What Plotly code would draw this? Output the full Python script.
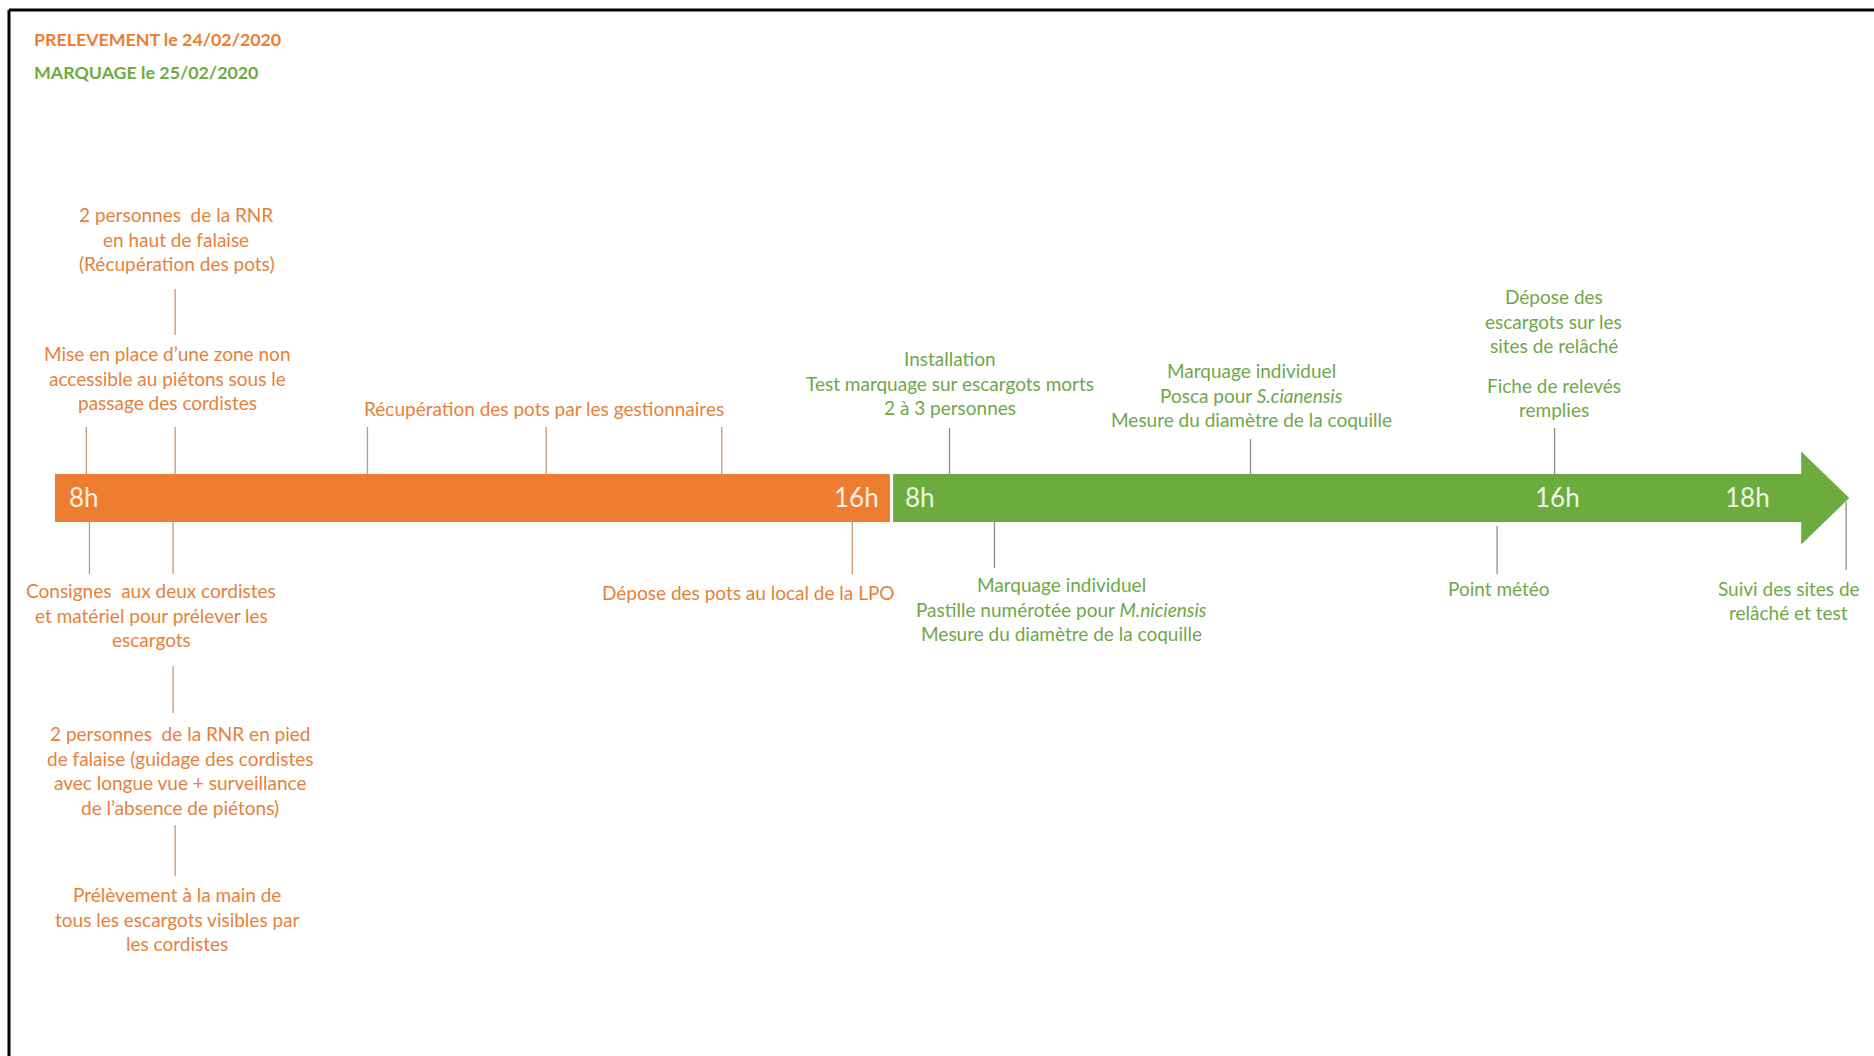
import plotly.graph_objects as go

# ---------------- data ----------------
# Timeline phases (schematic hour positions along the arrow)
phase_names = ["PRELEVEMENT le 24/02/2020", "MARQUAGE le 25/02/2020"]
phase_start = [0.0, 8.02]
phase_end = [7.99, 16.71]
arrow_tip = 17.17
phase_colors = ["#ED7D31", "#6CAC3F"]
text_colors = ["#E8803A", "#6DA84A"]
conn_colors = ["#C99670", "#8C8C8C"]
label_colors = ["#FFEFE2", "#EEF7E6"]

# Hour labels written inside the arrow
tick_labels = ["8h", "16h", "8h", "16h", "18h"]
tick_x = [0.28, 7.67, 8.28, 14.38, 16.20]
tick_phase = [0, 0, 1, 1, 1]

# Events: text (lines separated by <br>), position along timeline, vertical level, phase
event_text = [
    "2 personnes  de la RNR<br>en haut de falaise<br>(Récupération des pots)",
    "Mise en place d’une zone non<br>accessible au piétons sous le<br>passage des cordistes",
    "Récupération des pots par les gestionnaires",
    "Installation<br>Test marquage sur escargots morts<br>2 à 3 personnes",
    "Marquage individuel<br>Posca pour <i>S.cianensis</i><br>Mesure du diamètre de la coquille",
    "Dépose des<br>escargots sur les<br>sites de relâché",
    "Fiche de relevés<br>remplies",
    "Consignes  aux deux cordistes<br>et matériel pour prélever les<br>escargots",
    "2 personnes  de la RNR en pied<br>de falaise (guidage des cordistes<br>avec longue vue + surveillance<br>de l’absence de piétons)",
    "Prélèvement à la main de<br>tous les escargots visibles par<br>les cordistes",
    "Dépose des pots au local de la LPO",
    "Marquage individuel<br>Pastille numérotée pour <i>M.niciensis</i><br>Mesure du diamètre de la coquille",
    "Point météo",
    "Suivi des sites de<br>relâché et test",
]
event_x = [1.16, 1.08, 4.68, 8.56, 11.45, 14.34, 14.34,
           0.92, 1.20, 1.17, 6.64, 9.63, 13.82, 16.59]
event_y = [259, 120, 90, 115, 103, 177, 100.5,
           -117, -272.5, -421, -94, -111, -90, -102.5]
event_phase = [0, 0, 0, 1, 1, 1, 1,
               0, 0, 0, 0, 1, 1, 1]

# Connector ticks: x position, from level, to level, phase
conn_x = [1.15, 0.30, 1.15, 2.99, 4.70, 6.38, 8.56, 11.44, 14.35,
          0.33, 1.13, 1.13, 1.15, 7.63, 8.99, 13.80, 17.14]
conn_y0 = [209, 71, 71, 71, 71, 71, 70, 59, 70,
           -24, -24, -168, -327, -24, -24, -28, -4]
conn_y1 = [163, 24, 24, 24, 24, 24, 24, 24, 24,
           -76, -76, -215, -378, -76, -70, -76, -72]
conn_phase = [0, 0, 0, 0, 0, 0, 1, 1, 1,
              0, 0, 0, 0, 0, 1, 1, 1]

bar_half = 24
head_half = 46.5
line_step = 24.5
FONT = "Lato"

# ---------------- figure ----------------
fig = go.Figure()

# orange segment
fig.add_trace(go.Scatter(
    x=[phase_start[0], phase_end[0], phase_end[0], phase_start[0], phase_start[0]],
    y=[-bar_half, -bar_half, bar_half, bar_half, -bar_half],
    fill="toself", fillcolor=phase_colors[0], mode="lines",
    line=dict(width=0, color=phase_colors[0]), hoverinfo="skip", showlegend=False))

# green segment with arrow head
fig.add_trace(go.Scatter(
    x=[phase_start[1], phase_end[1], phase_end[1], arrow_tip, phase_end[1], phase_end[1], phase_start[1], phase_start[1]],
    y=[-bar_half, -bar_half, -head_half, 0, head_half, bar_half, bar_half, -bar_half],
    fill="toself", fillcolor=phase_colors[1], mode="lines",
    line=dict(width=0, color=phase_colors[1]), hoverinfo="skip", showlegend=False))

# connectors
for ph in (0, 1):
    xs, ys = [], []
    for x, a, b, p in zip(conn_x, conn_y0, conn_y1, conn_phase):
        if p == ph:
            xs += [x, x, None]
            ys += [a, b, None]
    fig.add_trace(go.Scatter(x=xs, y=ys, mode="lines",
                             line=dict(color=conn_colors[ph], width=1.3),
                             hoverinfo="skip", showlegend=False))

# hour labels
for lab, x, p in zip(tick_labels, tick_x, tick_phase):
    fig.add_annotation(x=x, y=1, text=lab, showarrow=False, xanchor="center", yanchor="middle",
                       font=dict(family=FONT, size=26, color=label_colors[p]))

# event texts, line by line
for txt, x, y, p in zip(event_text, event_x, event_y, event_phase):
    lines = txt.split("<br>")
    n = len(lines)
    for i, ln in enumerate(lines):
        yy = y + (n - 1) / 2 * line_step - i * line_step
        fig.add_annotation(x=x, y=yy, text=ln, showarrow=False, xanchor="center", yanchor="middle",
                           font=dict(family=FONT, size=19, color=text_colors[p]))

# phase titles top-left
for i, name in enumerate(phase_names):
    fig.add_annotation(xref="paper", yref="paper", x=32 / 1874, y=1 - (39 + 33 * i) / 1056,
                       text="<b>" + name + "</b>", showarrow=False, xanchor="left", yanchor="middle",
                       font=dict(family=FONT, size=17.8, color=phase_colors[i]))

# frame lines (top and left)
fig.add_shape(type="line", xref="paper", yref="paper", x0=9 / 1874, x1=1, y0=1 - 10 / 1056, y1=1 - 10 / 1056,
              line=dict(color="black", width=3))
fig.add_shape(type="line", xref="paper", yref="paper", x0=9 / 1874, x1=9 / 1874, y0=0, y1=1 - 10 / 1056,
              line=dict(color="black", width=3))

fig.update_layout(
    width=1874, height=1056,
    margin=dict(l=0, r=0, t=0, b=0),
    paper_bgcolor="white", plot_bgcolor="white",
    xaxis=dict(range=[-55 / 104.5, (1874 - 55) / 104.5], visible=False, fixedrange=True),
    yaxis=dict(range=[-558, 498], visible=False, fixedrange=True),
    showlegend=False,
)

fig.write_html("out.html", config={"displayModeBar": False},
               post_script="document.body.style.margin='0';document.body.style.overflow='hidden';")
